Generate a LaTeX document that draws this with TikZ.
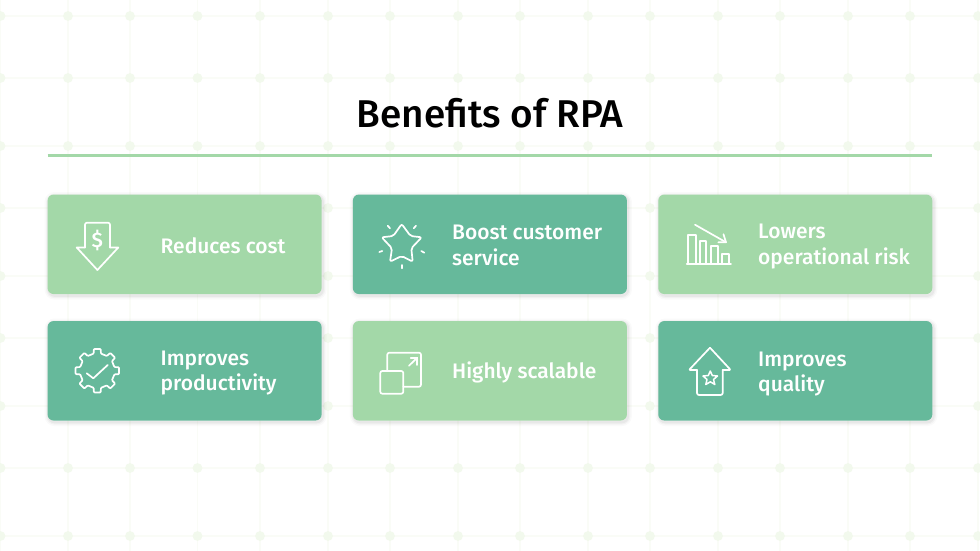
\documentclass[tikz,border=0pt]{standalone}
\usepackage{fontspec}
\setmainfont{Liberation Sans}
\newfontfamily\titlefont{Fira Sans Medium}
\newfontfamily\cardfont{Fira Sans Medium}
\usetikzlibrary{backgrounds}
\definecolor{lightcard}{HTML}{A3D8A8}
\definecolor{darkcard}{HTML}{66B99B}
\definecolor{griddot}{HTML}{F2F9ED}
\definecolor{gridline}{HTML}{FAFCF7}
\newcommand{\dotsize}{4.9pt}
\newcommand{\dotrow}[1]{
\fill[griddot] (0.5,#1) circle (\dotsize) (68,#1) circle (\dotsize) (130,#1) circle (\dotsize) (197.5,#1) circle (\dotsize);
\fill[griddot] (260,#1) circle (\dotsize) (328,#1) circle (\dotsize) (390,#1) circle (\dotsize) (458,#1) circle (\dotsize);
\fill[griddot] (520,#1) circle (\dotsize) (588,#1) circle (\dotsize) (650,#1) circle (\dotsize) (718,#1) circle (\dotsize);
\fill[griddot] (780,#1) circle (\dotsize) (848,#1) circle (\dotsize) (910,#1) circle (\dotsize) (978,#1) circle (\dotsize);
}
\tikzset{
  card/.style={rounded corners=6pt, minimum width=274pt, minimum height=99.5pt, inner sep=0pt,
    preaction={draw=black, draw opacity=0.02, line width=8pt, transform canvas={xshift=1pt,yshift=-1.5pt}},
    preaction={draw=black, draw opacity=0.03, line width=5pt, transform canvas={xshift=1pt,yshift=-1.5pt}},
    preaction={draw=black, draw opacity=0.04, line width=2.5pt, transform canvas={xshift=1pt,yshift=-1.5pt}}},
  cardtext/.style={anchor=west, align=left, text=white, inner sep=0pt, font=\cardfont\fontsize{21}{25.3}\selectfont},
  icon/.style={draw=white, line width=1.7pt, line join=round, line cap=round},
  gridrule/.style={draw=gridline, line width=1.2pt}
}
\begin{document}
\begin{tikzpicture}[x=1pt,y=-1pt]
\useasboundingbox (0,0) rectangle (980,551);
%grid
\begin{scope}[on background layer]
\fill[white] (0,0) rectangle (980,551);
\draw[gridrule] (0.5,0) -- (0.5,551);
\draw[gridrule] (68,0) -- (68,551);
\draw[gridrule] (130,0) -- (130,551);
\draw[gridrule] (197.5,0) -- (197.5,551);
\draw[gridrule] (260,0) -- (260,551);
\draw[gridrule] (328,0) -- (328,551);
\draw[gridrule] (390,0) -- (390,551);
\draw[gridrule] (458,0) -- (458,551);
\draw[gridrule] (520,0) -- (520,551);
\draw[gridrule] (588,0) -- (588,551);
\draw[gridrule] (650,0) -- (650,551);
\draw[gridrule] (718,0) -- (718,551);
\draw[gridrule] (780,0) -- (780,551);
\draw[gridrule] (848,0) -- (848,551);
\draw[gridrule] (910,0) -- (910,551);
\draw[gridrule] (978,0) -- (978,551);
\draw[gridrule] (0,16) -- (980,16);
\draw[gridrule] (0,78) -- (980,78);
\draw[gridrule] (0,146) -- (980,146);
\draw[gridrule] (0,208) -- (980,208);
\draw[gridrule] (0,276) -- (980,276);
\draw[gridrule] (0,338) -- (980,338);
\draw[gridrule] (0,406) -- (980,406);
\draw[gridrule] (0,468) -- (980,468);
\draw[gridrule] (0,536) -- (980,536);
\dotrow{16}
\dotrow{78}
\dotrow{146}
\dotrow{208}
\dotrow{276}
\dotrow{338}
\dotrow{406}
\dotrow{468}
\dotrow{536}
\end{scope}
%title
\node (title) at (490,113) {\titlefont\fontsize{38.7}{42}\selectfont Benefits of RPA};
\coordinate (ruleleft) at (47.7,155.7);
\coordinate (ruleright) at (932.3,155.7);
\draw[lightcard, line width=3.4pt] (ruleleft) -- (ruleright);
%cards
\node[card, fill=lightcard] (reduces) at (184.6,244.3) {};
\node[card, fill=darkcard] (boost) at (489.9,244.3) {};
\node[card, fill=lightcard] (lowers) at (795.3,244.3) {};
\node[card, fill=darkcard] (productivity) at (184.6,370.8) {};
\node[card, fill=lightcard] (scalable) at (489.9,370.8) {};
\node[card, fill=darkcard] (quality) at (795.3,370.8) {};
%card texts
\node[cardtext] (reducestext) at (160.5,246) {Reduces cost};
\node[cardtext] (boosttext) at (452,245.5) {Boost customer\\service};
\node[cardtext] (lowerstext) at (758,246.5) {Lowers\\operational risk};
\node[cardtext] (productivitytext) at (160.5,372.8) {Improves\\productivity};
\node[cardtext] (scalabletext) at (452,372) {Highly scalable};
\node[cardtext] (qualitytext) at (758,374.3) {Improves\\quality};
%arrow
\draw[icon, rounded corners=2pt] (85,247.5) -- (85,222.7) -- (110,222.7) -- (110,247.5);
\draw[icon] (85,247.5) -- (76.7,247.5) -- (97.4,270) -- (118.3,247.5) -- (110,247.5);
\node[text=white, inner sep=0pt] (dollar) at (97.4,240.5) {\cardfont\fontsize{21}{24}\selectfont\$};
%star
\draw[icon, rounded corners=2pt] (401.7,224) -- (410.5,236) -- (421.7,237.3) -- (411.3,248.3) -- (412.7,261.7) -- (401.7,256) -- (390,261.7) -- (392,248.3) -- (381.7,237.3) -- (393.3,236) -- cycle;
\draw[icon] (387.7,225.7) -- (390,228.3);
\draw[icon] (416,225.7) -- (413.7,228.3);
\draw[icon] (379.3,252) -- (382.3,251);
\draw[icon] (424.3,252.7) -- (421.3,251);
\draw[icon] (401.7,265) -- (401.7,268.3);
%chart
\draw[icon] (686.7,264) -- (731,264);
\draw[icon] (687.7,264) -- (687.7,234.7) -- (695.7,234.7) -- (695.7,264);
\draw[icon] (699.7,264) -- (699.7,241) -- (706.3,241) -- (706.3,264);
\draw[icon] (710.7,264) -- (710.7,246.3) -- (718.3,246.3) -- (718.3,264);
\draw[icon] (722,264) -- (722,253.7) -- (729.3,253.7) -- (729.3,264);
\draw[icon] (695,224.7) -- (726,242.3);
\draw[icon] (718.3,242.3) -- (726,242.3) -- (723.5,234.3);
%gear
\begin{scope}[shift={(97.3,370.7)}]
\draw[icon, rounded corners=0.8pt] (-12:17.5) -- (-9:22) -- (9:22) -- (12:17.5)
-- (33:17.5) -- (36:22) -- (54:22) -- (57:17.5)
-- (78:17.5) -- (81:22) -- (99:22) -- (102:17.5)
-- (123:17.5) -- (126:22) -- (144:22) -- (147:17.5)
-- (168:17.5) -- (171:22) -- (189:22) -- (192:17.5)
-- (213:17.5) -- (216:22) -- (234:22) -- (237:17.5)
-- (258:17.5) -- (261:22) -- (279:22) -- (282:17.5)
-- (303:17.5) -- (306:22) -- (324:22) -- (327:17.5) -- cycle;
\end{scope}
\draw[icon] (86.7,373.3) -- (93.3,378.3) -- (107.7,365);
%squares
\draw[icon, rounded corners=2pt] (387.3,371) -- (387.3,352.7) -- (421,352.7) -- (421,386.7) -- (403.3,386.7);
\draw[icon, rounded corners=2pt] (380.3,371) rectangle (403.3,393.7);
\draw[icon] (409,365.7) -- (417.3,357.7);
\draw[icon] (410.7,357.7) -- (417.3,357.7) -- (417.3,365);
%house
\draw[icon, rounded corners=1pt] (710,347.7) -- (730.7,370) -- (722.7,370);
\draw[icon, rounded corners=1pt] (710,347.7) -- (689,370) -- (697,370);
\draw[icon, rounded corners=2pt] (697,370) -- (697,395) -- (722.7,395) -- (722.7,370);
\draw[icon, line width=1.5pt] (710.3,371) -- (712.3,375.5) -- (717.5,376) -- (713.5,379.5) -- (714.8,384.5) -- (710.3,381.8) -- (705.8,384.5) -- (707,379.5) -- (703,376) -- (708.3,375.5) -- cycle;
\end{tikzpicture}
\end{document}
